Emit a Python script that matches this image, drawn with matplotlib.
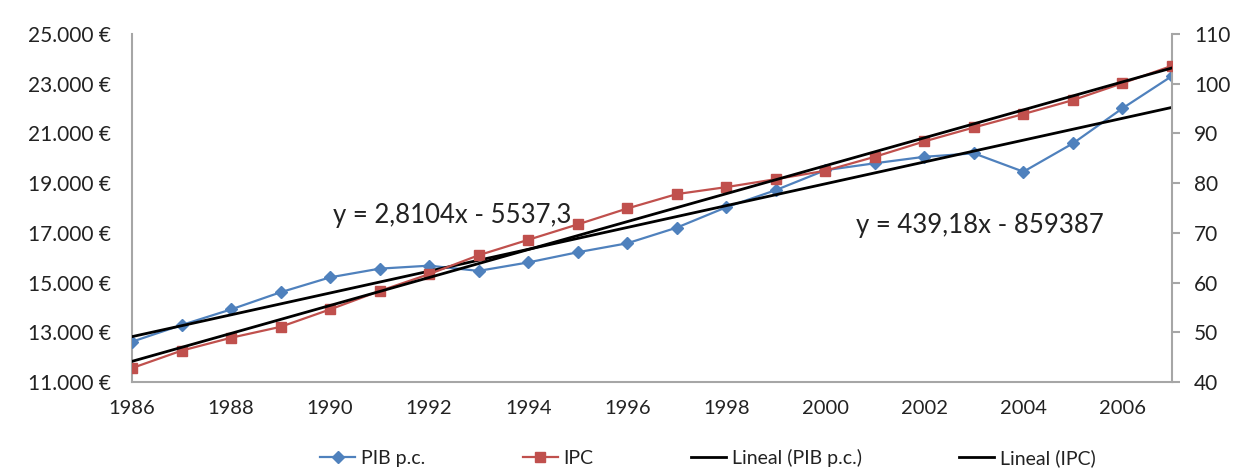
import matplotlib
matplotlib.use("Agg")
import matplotlib.pyplot as plt
from matplotlib.ticker import FuncFormatter, FixedLocator, MultipleLocator
import numpy as np

years = list(range(1986, 2008))
pib_pc = [12620, 13290, 13920, 14610, 15210, 15560, 15680, 15470, 15810, 16220,
          16580, 17210, 18030, 18720, 19520, 19800, 20060, 20200, 19460, 20600,
          22010, 23310]
ipc = [42.8, 46.3, 48.9, 51.1, 54.6, 58.3, 61.7, 65.5, 68.6, 71.7,
       74.9, 77.8, 79.2, 80.8, 82.5, 85.3, 88.4, 91.2, 93.9, 96.7,
       100.1, 103.6]
trend_pib = (439.18, -859387)
trend_ipc = (2.8104, -5537.3)
eq_pib = "y = 439,18x - 859387"
eq_ipc = "y = 2,8104x - 5537,3"
labels = ["PIB p.c.", "IPC", "Lineal (PIB p.c.)", "Lineal (IPC)"]
left_ticks = list(range(11000, 25001, 2000))
x_ticks = list(range(1986, 2007, 2))

plt.rcParams['font.family'] = ['Lato', 'DejaVu Sans']
BLUE = '#4F81BD'
RED = '#C0504D'
GRAY = '#A6A6A6'
TXT = '#222222'

W, H = 1249, 474
fig = plt.figure(figsize=(W/100, H/100), dpi=100)
ax = fig.add_axes([132/W, 1-382/H, (1172-132)/W, (382-34)/H])
ax2 = ax.twinx()

x = np.array(years)
l1, = ax.plot(x, pib_pc, color=BLUE, lw=1.6, marker='D', ms=6.5, zorder=3)
t1, = ax.plot(x, trend_pib[0]*x + trend_pib[1], color='black', lw=2.0, zorder=4)
l2, = ax2.plot(x, ipc, color=RED, lw=1.6, marker='s', ms=7.5, zorder=3)
t2, = ax2.plot(x, trend_ipc[0]*x + trend_ipc[1], color='black', lw=2.0, zorder=4)

ax.set_xlim(1986, 2007)
ax.set_ylim(11000, 25000)
ax2.set_ylim(40, 110)
ax.set_xticks(x_ticks)
ax.yaxis.set_major_locator(FixedLocator(left_ticks))
ax2.yaxis.set_major_locator(MultipleLocator(10))
ax.yaxis.set_major_formatter(FuncFormatter(lambda v, p: f"{int(v):,}".replace(",", ".") + " €"))

for a in (ax, ax2):
    for s in a.spines.values():
        s.set_visible(False)
for a, side in ((ax, 'left'), (ax, 'bottom'), (ax2, 'right')):
    a.spines[side].set_visible(True)
    a.spines[side].set_color(GRAY)
    a.spines[side].set_linewidth(1.5)

ax.tick_params(axis='y', length=0, labelsize=15, colors=TXT, pad=15)
ax.tick_params(axis='x', length=0, labelsize=14.5, colors=TXT, pad=13)
ax2.tick_params(axis='y', length=6, width=1.5, color=GRAY, labelsize=15, labelcolor=TXT, pad=10)

fig.text(452/W, 1-216/H, eq_ipc, fontsize=18.5, color=TXT, ha='center', va='center')
fig.text(980/W, 1-225/H, eq_pib, fontsize=18.5, color=TXT, ha='center', va='center')

ax2.set_zorder(ax.get_zorder() + 1)
ax2.patch.set_visible(False)

leg = fig.legend([l1, l2, t1, t2], labels, loc='center', ncol=4,
                 bbox_to_anchor=(708/W, 1-458/H), frameon=False, fontsize=14,
                 handlelength=1.8, columnspacing=5.0, handletextpad=0.3)
for t in leg.get_texts():
    t.set_color(TXT)

fig.savefig("out.png", dpi=100)
